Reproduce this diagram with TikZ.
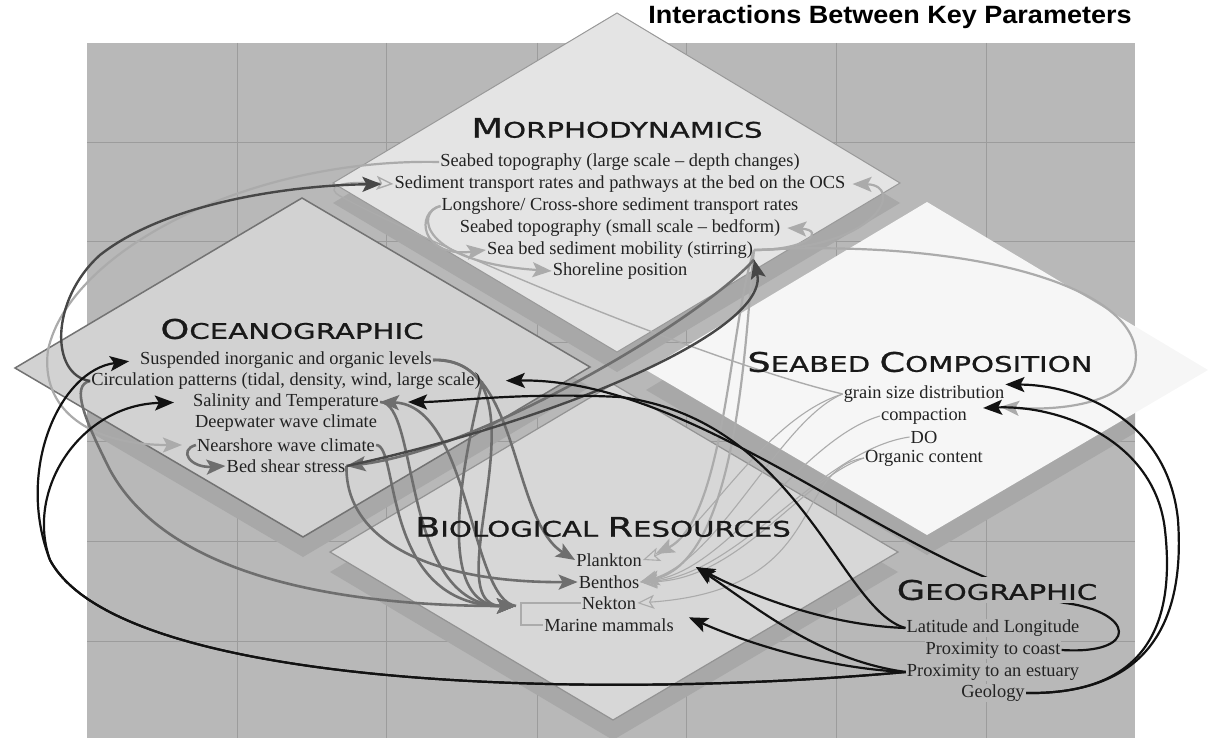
\documentclass[tikz,border=0pt]{standalone}
\usepackage{fontspec}
\setmainfont{Liberation Serif}
\newfontfamily\headfont[FakeStretch=1.36,FakeBold=0.9]{DejaVu Sans}
\newfontfamily\ttlfont[FakeStretch=1.08]{Liberation Sans}
\usetikzlibrary{arrows.meta}
\pgfdeclarelayer{back}
\pgfdeclarelayer{links}
\pgfsetlayers{back,links,main}
\definecolor{bggray}{HTML}{B8B8B8}
\definecolor{gridgray}{HTML}{9C9C9C}
\definecolor{shadegray}{HTML}{A8A8A8}
\definecolor{morphofill}{HTML}{E4E4E4}
\definecolor{oceanfill}{HTML}{D2D2D2}
\definecolor{biofill}{HTML}{D7D7D7}
\definecolor{seabedfill}{HTML}{F6F6F6}
\definecolor{lightlink}{HTML}{ABABAB}
\definecolor{midlink}{HTML}{6E6E6E}
\definecolor{darklink}{HTML}{474747}
\definecolor{blacklink}{HTML}{121212}
\definecolor{txt}{HTML}{222222}
\newcommand{\hd}[2]{{\fontsize{27}{27}\selectfont #1}{\fontsize{21.5}{21.5}\selectfont #2}}
\tikzset{
    entry/.style={font=\fontsize{18.4}{22}\selectfont, text=txt, inner sep=1pt},
    cattitle/.style={font=\headfont, text=black!90, inner sep=1pt},
    arrowhd/.style={-{Stealth[length=19pt,width=15pt,inset=4pt]}},
    lk/.style={draw=lightlink, line width=2.2pt, arrowhd},
    lkt/.style={draw=lightlink, line width=1.1pt, -{Stealth[open,length=17pt,width=14pt,inset=4pt]}},
    mk/.style={draw=midlink, line width=2.6pt, arrowhd},
    dkg/.style={draw=darklink, line width=2.4pt, arrowhd},
    bk/.style={draw=blacklink, line width=2.2pt, arrowhd}
}
\begin{document}
\begin{tikzpicture}[x=1pt,y=-1pt]
            \useasboundingbox (0,0) rectangle (1208,738);
            \begin{pgfonlayer}{back}
            \fill[bggray] (87,43) rectangle (1135,738);
            \foreach \gx in {237,386,537,686,836,986}
                \draw[gridgray, line width=1pt] (\gx,43) -- (\gx,738);
            \foreach \gy in {143,242,342,441,541,641}
                \draw[gridgray, line width=1pt] (87,\gy) -- (1135,\gy);
            \begin{scope}
                \clip (87,43) rectangle (1135,738);
                \begin{scope}[shift={(0,20)}]
                    \fill[shadegray] (333,183) -- (617,13) -- (900,183) -- (617,352) -- cycle;
                    \fill[shadegray] (15,368) -- (302,198) -- (590,367) -- (303,537) -- cycle;
                    \fill[shadegray] (330,552) -- (613,384) -- (898,552) -- (613,720) -- cycle;
                    \fill[shadegray] (646,370) -- (927,202) -- (1208,370) -- (927,535) -- cycle;
                \end{scope}
            \end{scope}
            \draw[fill=biofill, draw=gray!85, line width=1.2pt] (330,552) -- (613,384) -- (898,552) -- (613,720) -- cycle;
            \draw[fill=oceanfill, draw=gray!90!black, line width=1.5pt] (15,368) -- (302,198) -- (590,367) -- (303,537) -- cycle;
            \draw[fill=morphofill, draw=gray!80, line width=1pt] (333,183) -- (617,13) -- (900,183) -- (617,352) -- cycle;
            \fill[seabedfill] (646,370) -- (927,202) -- (1208,370) -- (927,535) -- cycle;
            \end{pgfonlayer}

            \node[font=\ttlfont\bfseries\fontsize{25}{25}\selectfont, inner sep=0pt] (ttl) at (890,17) {Interactions Between Key Parameters};

            \node[cattitle] (mt) at (617,128) {\hd{M}{ORPHODYNAMICS}};
            \node[entry] (m1) at (620,162) {Seabed topography (large scale – depth changes)};
            \node[entry] (m2) at (620,184) {Sediment transport rates and pathways at the bed on the OCS};
            \node[entry] (m3) at (620,206) {Longshore/ Cross-shore sediment transport rates};
            \node[entry] (m4) at (620,228) {Seabed topography (small scale – bedform)};
            \node[entry] (m5) at (620,250) {Sea bed sediment mobility (stirring)};
            \node[entry] (m6) at (620,271) {Shoreline position};

            \node[cattitle] (ot) at (292,329) {\hd{O}{CEANOGRAPHIC}};
            \node[entry] (o1) at (286,360) {Suspended inorganic and organic levels};
            \node[entry] (o2) at (286,381) {Circulation patterns (tidal, density, wind, large scale)};
            \node[entry] (o3) at (286,402) {Salinity and Temperature};
            \node[entry] (o4) at (286,423) {Deepwater wave climate};
            \node[entry] (o5) at (286,445) {Nearshore wave climate};
            \node[entry] (o6) at (286,466) {Bed shear stress};

            \node[cattitle] (bt) at (603,527) {\hd{B}{IOLOGICAL }\hd{R}{ESOURCES}};
            \node[entry] (b1) at (609,560) {Plankton};
            \node[entry] (b2) at (609,582) {Benthos};
            \node[entry] (b3) at (609,603) {Nekton};
            \node[entry] (b4) at (609,625) {Marine mammals};

            \node[cattitle] (st) at (920,362) {\hd{S}{EABED }\hd{C}{OMPOSITION}};
            \node[entry] (s1) at (924,394) {grain size distribution};
            \node[entry] (s2) at (924,416) {compaction};
            \node[entry] (s3) at (924,437) {DO};
            \node[entry] (s4) at (924,458) {Organic content};

            \node[cattitle, fill=bggray, inner sep=3pt] (gt) at (997,590) {\hd{G}{EOGRAPHIC}};
            \node[entry, fill=bggray] (g1) at (993,628) {Latitude and Longitude};
            \node[entry, fill=bggray] (g2) at (993,650) {Proximity to coast};
            \node[entry, fill=bggray] (g3) at (993,672) {Proximity to an estuary};
            \node[entry, fill=bggray] (g4) at (993,693) {Geology};

            \coordinate (nkin) at (516,606);
            \coordinate (pb) at (696,567);

            \begin{pgfonlayer}{links}
            \draw[lightlink, line width=1.6pt] (b3.west) -- ++(-60,0) |- (b4.west);
            \draw[lk, shorten >=14pt] (m1.west) .. controls (250,158) and (70,250) .. (48,350) .. controls (40,410) and (90,445) .. (o5.west);
            \draw[lkt, line width=1.4pt] (s1.west) .. controls (700,360) and (420,240) .. (340,196) .. controls (326,188) and (335,180) .. (m2.west);
            \draw[lk] (m3.west) .. controls (415,212) and (420,262) .. (m6.west);
            \draw[lk] (m3.west) .. controls (415,212) and (420,258) .. (m5.west);
            \draw[lk] (m5.east) .. controls (880,250) and (905,185) .. ([xshift=6pt]m2.east);
            \draw[lk] (m5.east) .. controls (810,250) and (825,230) .. ([xshift=6pt]m4.east);
            \draw[lk] (m5.east) .. controls (980,238) and (1150,290) .. (1135,365) .. controls (1125,410) and (1040,410) .. ([xshift=32pt]s2.north east);
            \draw[lk, shorten >=14pt] (m5.east) .. controls (730,320) and (725,520) .. (b1.east);
            \draw[lk] (m5.east) .. controls (745,330) and (740,560) .. (b2.east);
            \draw[lkt] (s1.west) .. controls (780,420) and (720,560) .. (b2.east);
            \draw[lkt] (s2.west) .. controls (800,440) and (730,570) .. (b2.east);
            \draw[lkt] (s3.west) .. controls (820,450) and (740,575) .. (b2.east);
            \draw[lkt] (s4.west) .. controls (800,480) and (740,580) .. (b2.east);
            \draw[lkt] (s1.west) .. controls (760,420) and (700,540) .. (b1.east);
            \draw[lkt] (s4.west) .. controls (790,470) and (830,590) .. (b3.east);

            \draw[mk] (o5.west) .. controls (178,450) and (190,468) .. (o6.west);
            \draw[mk] (o1.east) .. controls (520,355) and (510,520) .. (b1.west);
            \draw[mk] (o1.east) .. controls (560,360) and (430,606) .. (nkin);
            \draw[mk] (o2.east) .. controls (480,400) and (420,606) .. (nkin);
            \draw[mk] (o3.east) .. controls (420,402) and (400,606) .. (nkin);
            \draw[mk] (o5.east) .. controls (400,445) and (380,606) .. (nkin);
            \draw[mk] (o2.west) .. controls (70,385) and (85,420) .. (110,470) .. controls (170,580) and (350,606) .. (nkin);
            \draw[mk] (o6.east) .. controls (345,540) and (430,583) .. (b2.west);
            \draw[mk] (m5.south east) .. controls (700,320) and (480,450) .. (o6.east);
            \draw[mk] (nkin) .. controls (470,600) and (470,405) .. (o3.east);

            \draw[dkg, shorten >=12pt] (o2.west) .. controls (50,375) and (50,300) .. (100,255) .. controls (170,200) and (300,185) .. (m2.west);
            \draw[dkg] (o6.east) .. controls (560,420) and (770,330) .. (m5.south east);

            \draw[bk, shorten >=10pt] (g3.west) .. controls (600,700) and (120,690) .. (50,560) .. controls (15,470) and (60,370) .. (o1.west);
            \draw[bk, shorten >=18pt] (g3.west) .. controls (600,700) and (120,690) .. (50,560) .. controls (25,490) and (80,405) .. (o3.west);
            \draw[bk, shorten >=24pt] (g2.east) .. controls (1140,655) and (1135,612) .. (1065,603) .. controls (900,570) and (700,378) .. (o2.east);
            \draw[bk, shorten >=28pt] (g1.west) .. controls (840,610) and (800,420) .. (620,397) .. controls (520,392) and (450,402) .. (o3.east);
            \draw[bk] (g1.west) .. controls (820,625) and (740,590) .. (pb);
            \draw[bk] (g3.west) .. controls (820,660) and (760,610) .. (pb);
            \draw[bk] (g3.west) .. controls (820,668) and (740,640) .. ([xshift=14pt]b4.north east);
            \draw[bk] (g4.east) .. controls (1150,695) and (1185,620) .. (1178,520) .. controls (1168,420) and (1080,385) .. (s1.north east);
            \draw[bk] (g4.east) .. controls (1150,695) and (1175,620) .. (1165,530) .. controls (1155,440) and (1060,405) .. ([xshift=15pt,yshift=8pt]s2.east);
            \end{pgfonlayer}
\end{tikzpicture}
\end{document}
